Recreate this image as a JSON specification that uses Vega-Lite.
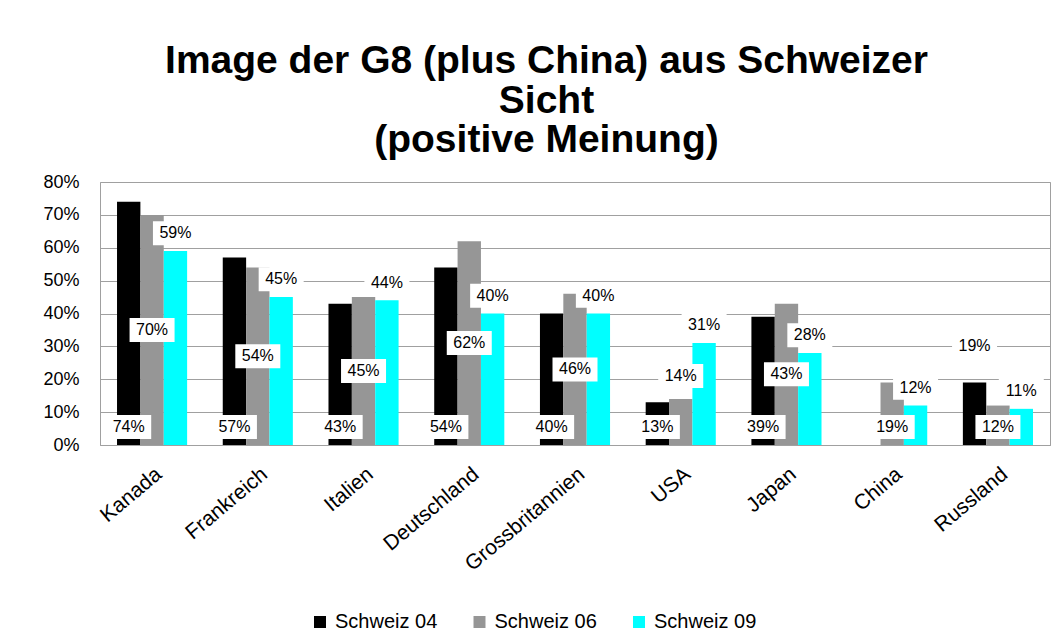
{
  "$schema": "https://vega.github.io/schema/vega-lite/v6.json",
  "width": 950,
  "height": 263,
  "autosize": {"type": "none"},
  "padding": {"left": 100, "top": 182, "right": 13, "bottom": 198},
  "background": "white",
  "config": {
    "font": "Liberation Sans",
    "view": {"stroke": "#a0a0a0", "strokeWidth": 1},
    "axisY": {
      "title": null,
      "values": [0, 10, 20, 30, 40, 50, 60, 70, 80],
      "labelExpr": "datum.value + '%'",
      "labelFontSize": 18,
      "labelColor": "black",
      "labelPadding": 21,
      "labelOverlap": false,
      "ticks": false,
      "domain": false,
      "grid": true,
      "gridColor": "#a0a0a0",
      "gridOpacity": 1
    }
  },
  "title": {
    "text": ["Image der G8 (plus China) aus Schweizer", "Sicht", "(positive Meinung)"],
    "font": "Liberation Sans",
    "fontSize": 39,
    "fontWeight": "bold",
    "lineHeight": 39.5,
    "color": "black",
    "anchor": "middle",
    "frame": "bounds",
    "offset": 13
  },
  "data": {
    "values": [
      {"country": "Kanada", "series": "Schweiz 04", "value": 74},
      {"country": "Kanada", "series": "Schweiz 06", "value": 70},
      {"country": "Kanada", "series": "Schweiz 09", "value": 59},
      {"country": "Frankreich", "series": "Schweiz 04", "value": 57},
      {"country": "Frankreich", "series": "Schweiz 06", "value": 54},
      {"country": "Frankreich", "series": "Schweiz 09", "value": 45},
      {"country": "Italien", "series": "Schweiz 04", "value": 43},
      {"country": "Italien", "series": "Schweiz 06", "value": 45},
      {"country": "Italien", "series": "Schweiz 09", "value": 44},
      {"country": "Deutschland", "series": "Schweiz 04", "value": 54},
      {"country": "Deutschland", "series": "Schweiz 06", "value": 62},
      {"country": "Deutschland", "series": "Schweiz 09", "value": 40},
      {"country": "Grossbritannien", "series": "Schweiz 04", "value": 40},
      {"country": "Grossbritannien", "series": "Schweiz 06", "value": 46},
      {"country": "Grossbritannien", "series": "Schweiz 09", "value": 40},
      {"country": "USA", "series": "Schweiz 04", "value": 13},
      {"country": "USA", "series": "Schweiz 06", "value": 14},
      {"country": "USA", "series": "Schweiz 09", "value": 31},
      {"country": "Japan", "series": "Schweiz 04", "value": 39},
      {"country": "Japan", "series": "Schweiz 06", "value": 43},
      {"country": "Japan", "series": "Schweiz 09", "value": 28},
      {"country": "China", "series": "Schweiz 06", "value": 19},
      {"country": "China", "series": "Schweiz 09", "value": 12},
      {"country": "Russland", "series": "Schweiz 04", "value": 19},
      {"country": "Russland", "series": "Schweiz 06", "value": 12},
      {"country": "Russland", "series": "Schweiz 09", "value": 11}
    ]
  },
  "transform": [
    {"calculate": "datum.series == 'Schweiz 09' ? datum.value + 5.4 : datum.series == 'Schweiz 04' ? (datum.country == 'Russland' ? datum.value + 11 : 5.5) : (datum.country == 'China' || datum.country == 'Russland' ? 5.5 : datum.country == 'USA' ? datum.value + 7 : datum.value / 2)", "as": "labelY"},
    {"calculate": "datum.value + '%'", "as": "label"}
  ],
  "encoding": {
    "x": {
      "field": "country",
      "type": "nominal",
      "sort": ["Kanada", "Frankreich", "Italien", "Deutschland", "Grossbritannien", "USA", "Japan", "China", "Russland"],
      "scale": {"paddingInner": 0.337, "paddingOuter": 0.161},
      "axis": {
        "title": null,
        "labelAngle": -40,
        "labelFontSize": 21,
        "labelColor": "black",
        "labelPadding": 18,
        "ticks": false,
        "domainColor": "#a0a0a0"
      }
    },
    "xOffset": {
      "field": "series",
      "type": "nominal",
      "sort": ["Schweiz 04", "Schweiz 06", "Schweiz 09"],
      "scale": {"paddingInner": 0, "paddingOuter": 0}
    }
  },
  "layer": [
    {
      "mark": {"type": "bar"},
      "encoding": {
        "y": {
          "field": "value",
          "type": "quantitative",
          "scale": {"domain": [0, 80], "nice": false},
          "axis": {"title": null, "values": [0, 10, 20, 30, 40, 50, 60, 70, 80]}
        },
        "color": {
          "field": "series",
          "type": "nominal",
          "scale": {"domain": ["Schweiz 04", "Schweiz 06", "Schweiz 09"], "range": ["#000000", "#969696", "#00ffff"]},
          "legend": {
            "title": null,
            "orient": "none",
            "legendX": 210,
            "legendY": 430,
            "direction": "horizontal",
            "symbolType": "square",
            "symbolSize": 144,
            "symbolStrokeWidth": 0,
            "labelFontSize": 20,
            "labelColor": "black",
            "labelOffset": 5,
            "columnPadding": 31.5
          }
        }
      }
    },
    {
      "mark": {"type": "point", "shape": "M-1,-0.533L1,-0.533L1,0.533L-1,0.533Z", "filled": true, "color": "white", "opacity": 1, "size": 2025, "strokeWidth": 0},
      "encoding": {
        "y": {"field": "labelY", "type": "quantitative", "axis": {"title": null, "values": [0, 10, 20, 30, 40, 50, 60, 70, 80]}}
      }
    },
    {
      "mark": {"type": "text", "fontSize": 16, "color": "black", "align": "center", "baseline": "middle"},
      "encoding": {
        "y": {"field": "labelY", "type": "quantitative", "axis": {"title": null, "values": [0, 10, 20, 30, 40, 50, 60, 70, 80]}},
        "text": {"field": "label"}
      }
    }
  ]
}
